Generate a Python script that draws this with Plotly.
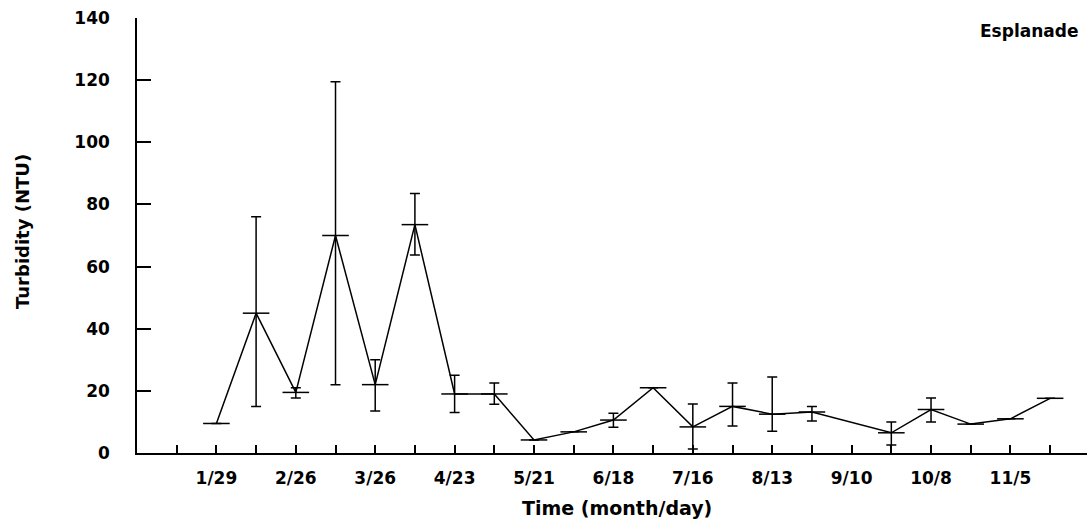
import plotly.graph_objects as go

# Sampling dates (month-day, non-leap year)
dates = ["1990-01-29", "1990-02-12", "1990-02-26", "1990-03-12", "1990-03-26",
         "1990-04-09", "1990-04-23", "1990-05-07", "1990-05-21", "1990-06-04",
         "1990-06-18", "1990-07-02", "1990-07-16", "1990-07-30", "1990-08-13",
         "1990-08-27", "1990-09-24", "1990-10-08", "1990-10-22", "1990-11-05",
         "1990-11-19"]
turbidity = [9.5, 45, 19.5, 70, 22, 73.5, 19, 19, 4.2, 6.8, 10.6, 21, 8.4, 15,
             12.5, 13.2, 6.5, 14, 9.3, 11, 17.6]
upper = [9.5, 76, 21, 119.5, 30, 83.5, 25, 22.5, 4.2, 6.8, 12.8, 21, 15.8, 22.5,
         24.5, 15, 10, 17.7, 9.3, 11, 17.6]
lower = [9.5, 15, 17.7, 22, 13.5, 63.7, 13, 15.7, 4.2, 6.8, 8.3, 21, 1.3, 8.7,
         7, 10.3, 2.6, 10, 9.3, 11, 17.6]

tick_dates = ["1990-01-15", "1990-01-29", "1990-02-12", "1990-02-26", "1990-03-12",
              "1990-03-26", "1990-04-09", "1990-04-23", "1990-05-07", "1990-05-21",
              "1990-06-04", "1990-06-18", "1990-07-02", "1990-07-16", "1990-07-30",
              "1990-08-13", "1990-08-27", "1990-09-10", "1990-09-24", "1990-10-08",
              "1990-10-22", "1990-11-05", "1990-11-19"]
tick_labels = ["", "1/29", "", "2/26", "", "3/26", "", "4/23", "", "5/21", "",
               "6/18", "", "7/16", "", "8/13", "", "9/10", "", "10/8", "", "11/5", ""]
y_ticks = [0, 20, 40, 60, 80, 100, 120, 140]

err_plus = [u - v for u, v in zip(upper, turbidity)]
err_minus = [v - l for v, l in zip(turbidity, lower)]

fig = go.Figure()
fig.add_trace(go.Scatter(
    x=dates, y=turbidity, mode="lines+markers",
    line=dict(color="black", width=1.5),
    marker=dict(symbol="line-ew", size=19, line=dict(color="black", width=1.5), color="black"),
    error_y=dict(type="data", symmetric=False, array=err_plus, arrayminus=err_minus,
                 color="black", thickness=1.5, width=5),
    showlegend=False,
))

tick_font = dict(family="DejaVu Sans", size=17, color="black", weight="bold")

fig.update_layout(
    width=1087, height=528,
    margin=dict(l=137, r=0, t=18, b=75),
    paper_bgcolor="white", plot_bgcolor="white",
    xaxis=dict(
        type="date", range=["1990-01-01", "1990-12-02"],
        tickvals=tick_dates, ticktext=tick_labels,
        ticks="inside", ticklen=8, tickwidth=1.5, tickcolor="black",
        showline=True, linecolor="black", linewidth=1.5,
        showgrid=False, zeroline=False, ticklabelstandoff=9,
        tickfont=tick_font,
    ),
    yaxis=dict(
        range=[0, 140], tickvals=y_ticks,
        ticks="inside", ticklen=14, tickwidth=1.5, tickcolor="black",
        showline=True, linecolor="black", linewidth=1.5,
        showgrid=False, zeroline=False, ticklabelstandoff=22,
        tickfont=tick_font,
    ),
    annotations=[
        dict(text="Turbidity (NTU)", xref="paper", yref="paper",
             x=(22 - 137) / 950, y=(453 - 232) / 435, xanchor="center", yanchor="middle",
             textangle=-90, showarrow=False,
             font=dict(family="DejaVu Sans", size=18, color="black", weight="bold")),
        dict(text="Time (month/day)", xref="paper", yref="paper",
             x=(617 - 137) / 950, y=-(508 - 453) / 435, xanchor="center", yanchor="middle",
             showarrow=False,
             font=dict(family="DejaVu Sans", size=19, color="black", weight="bold")),
        dict(text="Esplanade", xref="paper", yref="paper",
             x=(1080 - 137) / 950, y=(453 - 31) / 435, xanchor="right", yanchor="middle",
             showarrow=False,
             font=dict(family="DejaVu Sans", size=17, color="black", weight="bold")),
    ],
)

fig.write_html("out.html")
